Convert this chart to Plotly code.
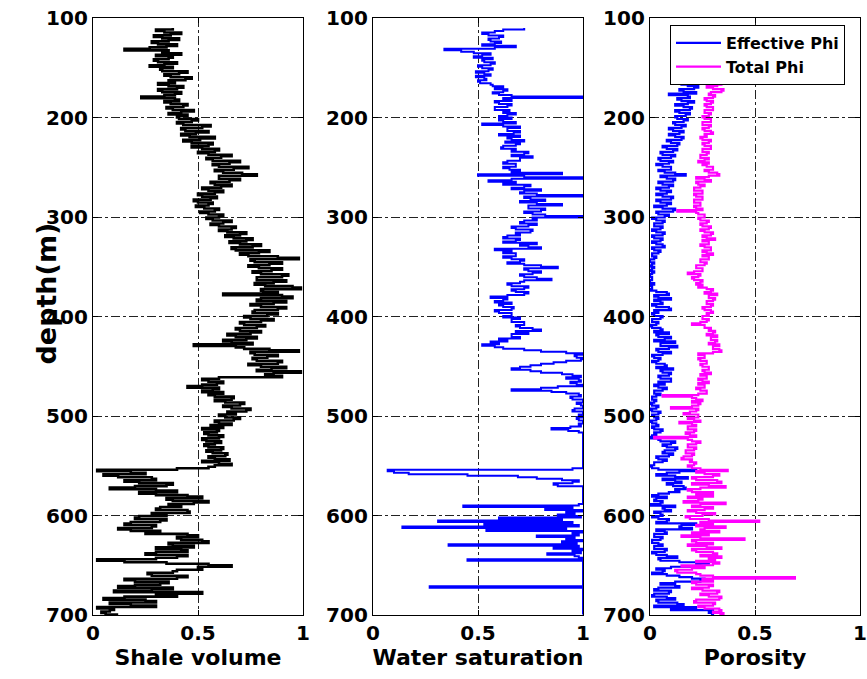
import plotly.graph_objects as go

# ---------------- data ----------------
# Logs are read at 3 m samples; each sample has a second reading 1.5 m deeper
depth = list(range(110, 701, 3))          # 110 ... 698 m
depth_phi = list(range(158, 701, 3))      # 158 ... 698 m
half_step = 1.5

shale_volume = [
    0.38, 0.34, 0.37, 0.33, 0.36, 0.31, 0.35, 0.15, 0.33, 0.30,
    0.36, 0.31, 0.34, 0.38, 0.33, 0.41, 0.37, 0.44, 0.39, 0.36,
    0.40, 0.33, 0.39, 0.23, 0.41, 0.37, 0.43, 0.38, 0.42, 0.45,
    0.41, 0.47, 0.43, 0.52, 0.44, 0.49, 0.46, 0.51, 0.47, 0.55,
    0.52, 0.58, 0.55, 0.61, 0.57, 0.65, 0.60, 0.67, 0.62, 0.78,
    0.60, 0.65, 0.58, 0.61, 0.55, 0.58, 0.52, 0.56, 0.50, 0.55,
    0.53, 0.58, 0.55, 0.60, 0.57, 0.62, 0.60, 0.66, 0.64, 0.70,
    0.67, 0.73, 0.70, 0.76, 0.68, 0.79, 0.74, 0.98, 0.77, 0.84,
    0.79, 0.85, 0.80, 0.90, 0.78, 0.86, 0.82, 0.99, 0.81, 0.62,
    0.95, 0.78, 0.86, 0.80, 0.88, 0.76, 0.83, 0.75, 0.80, 0.72,
    0.78, 0.70, 0.75, 0.68, 0.73, 0.66, 0.48, 0.72, 0.98, 0.77,
    0.83, 0.78, 0.88, 0.80, 0.85, 0.99, 0.82, 0.60, 0.55, 0.59,
    0.45, 0.57, 0.62, 0.58, 0.66, 0.63, 0.70, 0.66, 0.73, 0.68,
    0.63, 0.67, 0.60, 0.56, 0.52, 0.59, 0.55, 0.60, 0.54, 0.58,
    0.55, 0.61, 0.57, 0.63, 0.58, 0.52, 0.66, 0.55, 0.02, 0.25,
    0.12, 0.30, 0.22, 0.35, 0.08, 0.40, 0.30, 0.52, 0.38, 0.48,
    0.42, 0.30, 0.46, 0.35, 0.20, 0.32, 0.15, 0.28, 0.18, 0.25,
    0.50, 0.42, 0.55, 0.38, 0.30, 0.45, 0.25, 0.40, 0.02, 0.35,
    0.66, 0.52, 0.38, 0.28, 0.40, 0.20, 0.32, 0.12, 0.28, 0.52,
    0.40, 0.05, 0.30, 0.18, 0.02, 0.08, 0.06,
]
shale_volume_b = [
    0.30, 0.42, 0.29, 0.41, 0.28, 0.40, 0.27, 0.36, 0.42, 0.38,
    0.29, 0.40, 0.27, 0.32, 0.45, 0.34, 0.47, 0.36, 0.31, 0.43,
    0.31, 0.42, 0.34, 0.39, 0.34, 0.45, 0.35, 0.48, 0.36, 0.40,
    0.50, 0.40, 0.56, 0.42, 0.55, 0.42, 0.58, 0.43, 0.57, 0.47,
    0.60, 0.50, 0.66, 0.54, 0.70, 0.57, 0.74, 0.58, 0.71, 0.60,
    0.70, 0.56, 0.66, 0.52, 0.62, 0.50, 0.59, 0.48, 0.57, 0.49,
    0.60, 0.51, 0.62, 0.54, 0.66, 0.56, 0.68, 0.60, 0.73, 0.63,
    0.76, 0.65, 0.80, 0.66, 0.84, 0.70, 0.88, 0.75, 0.90, 0.74,
    0.90, 0.76, 0.93, 0.78, 0.92, 0.77, 0.95, 0.80, 0.88, 0.90,
    0.80, 0.92, 0.75, 0.92, 0.77, 0.88, 0.72, 0.86, 0.70, 0.82,
    0.68, 0.80, 0.64, 0.78, 0.62, 0.76, 0.68, 0.84, 0.75, 0.88,
    0.76, 0.90, 0.74, 0.92, 0.78, 0.86, 0.90, 0.52, 0.62, 0.52,
    0.60, 0.52, 0.55, 0.67, 0.58, 0.72, 0.62, 0.75, 0.64, 0.60,
    0.70, 0.58, 0.66, 0.62, 0.60, 0.53, 0.62, 0.52, 0.61, 0.53,
    0.62, 0.54, 0.64, 0.55, 0.65, 0.60, 0.58, 0.40, 0.18, 0.05,
    0.28, 0.15, 0.38, 0.20, 0.30, 0.22, 0.45, 0.35, 0.55, 0.36,
    0.32, 0.45, 0.28, 0.22, 0.35, 0.18, 0.30, 0.12, 0.32, 0.45,
    0.40, 0.52, 0.36, 0.48, 0.42, 0.30, 0.45, 0.30, 0.15, 0.55,
    0.50, 0.40, 0.26, 0.45, 0.15, 0.36, 0.20, 0.38, 0.10, 0.30,
    0.15, 0.25, 0.08, 0.30, 0.10, 0.04, 0.12,
]

water_saturation = [
    0.72, 0.58, 0.55, 0.60, 0.56, 0.58, 0.68, 0.34, 0.48, 0.52,
    0.57, 0.53, 0.56, 0.52, 0.55, 0.53, 0.49, 0.54, 0.51, 0.57,
    0.58, 0.62, 0.60, 1.00, 0.66, 0.60, 0.64, 0.58, 0.62, 0.64,
    0.66, 0.62, 0.52, 0.70, 0.64, 0.67, 0.70, 0.66, 0.63, 0.68,
    0.61, 0.66, 0.72, 0.76, 0.70, 0.62, 0.68, 0.65, 0.66, 0.50,
    1.00, 0.55, 0.62, 0.72, 0.80, 0.70, 1.00, 0.75, 0.70, 0.90,
    0.74, 0.80, 0.76, 1.00, 0.78, 0.70, 0.74, 0.68, 0.75, 0.70,
    0.62, 0.68, 0.78, 0.74, 0.58, 0.62, 0.68, 0.66, 0.70, 0.72,
    0.88, 0.74, 0.76, 0.72, 0.85, 0.70, 0.66, 0.72, 0.68, 0.72,
    0.56, 0.62, 0.66, 0.62, 0.66, 0.60, 0.66, 0.70, 0.66, 0.72,
    0.70, 0.80, 0.74, 0.66, 0.60, 0.56, 0.52, 0.62, 0.80, 1.00,
    0.97, 0.99, 0.86, 0.75, 0.66, 0.80, 0.95, 0.92, 0.99, 0.97,
    0.88, 0.66, 0.92, 0.99, 0.95, 1.00, 0.99, 1.00, 0.95, 1.00,
    1.00, 0.98, 1.00, 0.99, 0.85, 0.98, 1.00, 1.00, 1.00, 1.00,
    1.00, 1.00, 1.00, 1.00, 1.00, 1.00, 1.00, 1.00, 0.07, 0.17,
    0.69, 0.90, 0.95, 0.88, 1.00, 1.00, 1.00, 1.00, 1.00, 1.00,
    0.43, 0.82, 0.92, 0.88, 0.60, 0.31, 0.53, 0.14, 0.54, 0.95,
    0.78, 0.92, 0.90, 0.36, 0.86, 0.95, 0.83, 0.98, 0.45, 1.00,
    1.00, 1.00, 1.00, 1.00, 1.00, 1.00, 1.00, 0.27, 1.00, 1.00,
    1.00, 1.00, 1.00, 1.00, 1.00, 1.00, 1.00,
]
water_saturation_b = [
    0.62, 0.52, 0.62, 0.55, 0.61, 0.52, 0.58, 0.42, 0.56, 0.48,
    0.52, 0.58, 0.50, 0.57, 0.49, 0.56, 0.53, 0.50, 0.56, 0.62,
    0.64, 0.57, 0.66, 0.62, 0.58, 0.66, 0.58, 0.65, 0.68, 0.60,
    0.60, 0.68, 0.62, 0.64, 0.70, 0.60, 0.64, 0.72, 0.70, 0.62,
    0.68, 0.74, 0.66, 0.70, 0.64, 0.68, 0.62, 0.70, 0.90, 0.72,
    0.66, 0.68, 0.75, 0.66, 0.72, 0.78, 0.72, 0.82, 0.78, 0.74,
    0.82, 0.72, 0.82, 0.76, 0.72, 0.78, 0.66, 0.76, 0.68, 0.64,
    0.70, 0.62, 0.70, 0.80, 0.66, 0.68, 0.62, 0.72, 0.64, 0.80,
    0.72, 0.80, 0.70, 0.78, 0.72, 0.64, 0.74, 0.66, 0.74, 0.64,
    0.64, 0.58, 0.60, 0.67, 0.58, 0.66, 0.62, 0.66, 0.72, 0.68,
    0.76, 0.68, 0.66, 0.70, 0.64, 0.60, 0.58, 0.72, 0.92, 0.96,
    1.00, 0.92, 0.80, 0.70, 0.75, 0.90, 0.99, 0.98, 0.94, 1.00,
    0.80, 0.85, 0.98, 0.94, 1.00, 0.97, 1.00, 0.96, 1.00, 0.98,
    0.97, 1.00, 0.98, 0.94, 0.93, 1.00, 1.00, 1.00, 1.00, 1.00,
    1.00, 1.00, 1.00, 1.00, 1.00, 1.00, 1.00, 0.95, 0.10, 0.45,
    0.78, 0.98, 0.86, 1.00, 1.00, 1.00, 1.00, 1.00, 1.00, 0.98,
    0.95, 1.00, 0.96, 0.99, 0.90, 0.95, 0.98, 0.92, 1.00, 0.98,
    0.96, 1.00, 0.97, 0.98, 1.00, 0.99, 0.96, 1.00, 1.00, 1.00,
    1.00, 1.00, 1.00, 1.00, 1.00, 1.00, 1.00, 1.00, 1.00, 1.00,
    1.00, 1.00, 1.00, 1.00, 1.00, 1.00, 1.00,
]

effective_phi = [
    0.20, 0.17, 0.22, 0.18, 0.21, 0.16, 0.09, 0.19, 0.15, 0.18,
    0.16, 0.19, 0.14, 0.17, 0.13, 0.16, 0.12, 0.15, 0.11, 0.14,
    0.12, 0.15, 0.10, 0.13, 0.08, 0.11, 0.06, 0.10, 0.05, 0.09,
    0.06, 0.10, 0.07, 0.17, 0.08, 0.11, 0.06, 0.09, 0.05, 0.08,
    0.06, 0.10, 0.05, 0.08, 0.06, 0.11, 0.04, 0.07, 0.03, 0.06,
    0.02, 0.05, 0.03, 0.06, 0.02, 0.05, 0.03, 0.07, 0.02, 0.04,
    0.01, 0.02, 0.00, 0.01, 0.02, 0.00, 0.01, 0.00, 0.01, 0.00,
    0.00, 0.01, 0.03, 0.09, 0.04, 0.02, 0.06, 0.03, 0.10, 0.04,
    0.02, 0.05, 0.01, 0.03, 0.01, 0.06, 0.09, 0.04, 0.07, 0.12,
    0.05, 0.09, 0.04, 0.06, 0.02, 0.04, 0.03, 0.08, 0.11, 0.06,
    0.09, 0.05, 0.10, 0.07, 0.04, 0.06, 0.02, 0.03, 0.01, 0.02,
    0.01, 0.03, 0.01, 0.04, 0.02, 0.03, 0.01, 0.04, 0.02, 0.05,
    0.03, 0.00, 0.05, 0.10, 0.08, 0.12, 0.06, 0.09, 0.04, 0.06,
    0.02, 0.01, 0.22, 0.08, 0.12, 0.06, 0.15, 0.11, 0.17, 0.14,
    0.04, 0.08, 0.02, 0.05, 0.12, 0.07, 0.02, 0.06, 0.04, 0.08,
    0.22, 0.14, 0.03, 0.08, 0.02, 0.05, 0.01, 0.06, 0.02, 0.07,
    0.03, 0.13, 0.05, 0.28, 0.24, 0.03, 0.06, 0.08, 0.20, 0.24,
    0.05, 0.14, 0.02, 0.09, 0.01, 0.12, 0.04, 0.16, 0.22, 0.30,
    0.30,
]
effective_phi_b = [
    0.15, 0.23, 0.15, 0.23, 0.14, 0.22, 0.18, 0.13, 0.21, 0.12,
    0.20, 0.12, 0.19, 0.12, 0.18, 0.11, 0.17, 0.09, 0.16, 0.09,
    0.16, 0.08, 0.14, 0.06, 0.13, 0.05, 0.12, 0.04, 0.11, 0.03,
    0.10, 0.04, 0.12, 0.05, 0.12, 0.04, 0.11, 0.03, 0.10, 0.03,
    0.11, 0.03, 0.10, 0.02, 0.12, 0.03, 0.09, 0.01, 0.07, 0.02,
    0.06, 0.01, 0.07, 0.01, 0.06, 0.01, 0.06, 0.01, 0.05, 0.01,
    0.03, 0.00, 0.02, 0.00, 0.01, 0.02, 0.00, 0.01, 0.00, 0.02,
    0.01, 0.00, 0.08, 0.02, 0.10, 0.05, 0.01, 0.09, 0.02, 0.01,
    0.06, 0.01, 0.04, 0.00, 0.05, 0.02, 0.03, 0.10, 0.02, 0.05,
    0.13, 0.03, 0.10, 0.01, 0.05, 0.01, 0.07, 0.03, 0.05, 0.10,
    0.04, 0.10, 0.04, 0.02, 0.08, 0.02, 0.05, 0.01, 0.03, 0.00,
    0.04, 0.00, 0.05, 0.01, 0.04, 0.00, 0.03, 0.01, 0.06, 0.02,
    0.01, 0.04, 0.12, 0.06, 0.13, 0.07, 0.11, 0.03, 0.08, 0.02,
    0.00, 0.04, 0.14, 0.03, 0.18, 0.12, 0.08, 0.16, 0.12, 0.09,
    0.01, 0.03, 0.06, 0.00, 0.06, 0.10, 0.05, 0.01, 0.09, 0.03,
    0.15, 0.20, 0.07, 0.02, 0.06, 0.01, 0.04, 0.02, 0.08, 0.01,
    0.08, 0.04, 0.14, 0.22, 0.10, 0.07, 0.01, 0.14, 0.26, 0.12,
    0.12, 0.04, 0.10, 0.02, 0.08, 0.03, 0.13, 0.02, 0.10, 0.28,
    0.29,
]

total_phi = [
    0.30, 0.33, 0.29, 0.32, 0.30, 0.34, 0.28, 0.30, 0.27, 0.29,
    0.27, 0.30, 0.26, 0.28, 0.26, 0.29, 0.25, 0.28, 0.26, 0.30,
    0.27, 0.25, 0.28, 0.26, 0.29, 0.25, 0.27, 0.24, 0.26, 0.28,
    0.27, 0.30, 0.28, 0.33, 0.22, 0.29, 0.23, 0.24, 0.21, 0.25,
    0.22, 0.25, 0.21, 0.24, 0.22, 0.13, 0.23, 0.26, 0.24, 0.27,
    0.25, 0.28, 0.26, 0.29, 0.27, 0.25, 0.28, 0.26, 0.29, 0.27,
    0.25, 0.28, 0.24, 0.26, 0.22, 0.25, 0.18, 0.23, 0.21, 0.24,
    0.25, 0.27, 0.29, 0.32, 0.28, 0.30, 0.27, 0.29, 0.26, 0.30,
    0.28, 0.25, 0.27, 0.20, 0.26, 0.28, 0.30, 0.32, 0.29, 0.31,
    0.33, 0.30, 0.34, 0.23, 0.26, 0.24, 0.27, 0.25, 0.28, 0.26,
    0.24, 0.27, 0.25, 0.23, 0.26, 0.24, 0.27, 0.06, 0.22, 0.20,
    0.23, 0.10, 0.22, 0.16, 0.23, 0.21, 0.14, 0.22, 0.18, 0.21,
    0.19, 0.02, 0.20, 0.22, 0.18, 0.21, 0.17, 0.20, 0.15, 0.19,
    0.21, 0.20, 0.37, 0.26, 0.30, 0.22, 0.34, 0.28, 0.24, 0.20,
    0.22, 0.18, 0.23, 0.36, 0.20, 0.26, 0.22, 0.25, 0.19, 0.52,
    0.30, 0.36, 0.24, 0.20, 0.15, 0.45, 0.22, 0.18, 0.34, 0.22,
    0.32, 0.34, 0.31, 0.33, 0.15, 0.20, 0.13, 0.24, 0.69, 0.30,
    0.22, 0.28, 0.25, 0.32, 0.28, 0.33, 0.21, 0.30, 0.26, 0.34,
    0.35,
]
total_phi_b = [
    0.34, 0.28, 0.34, 0.27, 0.35, 0.29, 0.31, 0.26, 0.30, 0.26,
    0.30, 0.26, 0.29, 0.25, 0.29, 0.25, 0.29, 0.25, 0.29, 0.26,
    0.24, 0.29, 0.25, 0.29, 0.25, 0.28, 0.24, 0.28, 0.23, 0.25,
    0.30, 0.26, 0.32, 0.28, 0.26, 0.22, 0.26, 0.21, 0.25, 0.21,
    0.25, 0.21, 0.24, 0.21, 0.25, 0.22, 0.26, 0.23, 0.28, 0.24,
    0.29, 0.24, 0.30, 0.25, 0.31, 0.28, 0.24, 0.29, 0.25, 0.30,
    0.28, 0.24, 0.27, 0.22, 0.25, 0.21, 0.24, 0.20, 0.25, 0.22,
    0.23, 0.30, 0.26, 0.28, 0.31, 0.27, 0.30, 0.25, 0.29, 0.27,
    0.25, 0.28, 0.24, 0.26, 0.29, 0.31, 0.27, 0.29, 0.32, 0.28,
    0.30, 0.33, 0.30, 0.26, 0.23, 0.27, 0.24, 0.28, 0.25, 0.29,
    0.27, 0.23, 0.28, 0.26, 0.22, 0.27, 0.23, 0.20, 0.25, 0.24,
    0.20, 0.23, 0.19, 0.23, 0.18, 0.24, 0.20, 0.18, 0.22, 0.17,
    0.22, 0.18, 0.24, 0.18, 0.22, 0.17, 0.21, 0.16, 0.20, 0.22,
    0.18, 0.24, 0.22, 0.33, 0.20, 0.32, 0.20, 0.36, 0.18, 0.30,
    0.30, 0.25, 0.16, 0.24, 0.30, 0.18, 0.31, 0.17, 0.28, 0.24,
    0.22, 0.26, 0.33, 0.28, 0.24, 0.20, 0.30, 0.27, 0.20, 0.30,
    0.24, 0.28, 0.22, 0.30, 0.26, 0.12, 0.22, 0.30, 0.25, 0.20,
    0.30, 0.20, 0.33, 0.24, 0.34, 0.22, 0.31, 0.23, 0.33, 0.30,
    0.33,
]

x_ticks = [0, 0.5, 1]
x_ticktext = ["0", "0.5", "1"]
depth_ticks = [100, 200, 300, 400, 500, 600, 700]
panel_titles = ["Shale volume", "Water saturation", "Porosity"]
y_title = "depth(m)"


def interleave(d, a, b):
    """Merge the two readings of each sample into one depth-ordered log."""
    xs, ys = [], []
    for di, ai, bi in zip(d, a, b):
        xs += [ai, bi]
        ys += [di, di + half_step]
    return xs, ys


# ---------------- figure ----------------
W, H = 867, 679
FONT = "DejaVu Sans"
SHAPE = "vh"

fig = go.Figure()
x, y = interleave(depth, shale_volume, shale_volume_b)
fig.add_trace(go.Scatter(x=x, y=y, mode="lines",
                         line=dict(color="black", width=2.6, shape=SHAPE, simplify=False),
                         showlegend=False, xaxis="x", yaxis="y"))
x, y = interleave(depth, water_saturation, water_saturation_b)
fig.add_trace(go.Scatter(x=x, y=y, mode="lines",
                         line=dict(color="#0000ff", width=2.0, shape=SHAPE, simplify=False),
                         showlegend=False, xaxis="x2", yaxis="y2"))
x, y = interleave(depth_phi, effective_phi, effective_phi_b)
fig.add_trace(go.Scatter(x=x, y=y, mode="lines", name="Effective Phi",
                         line=dict(color="#0000ff", width=2.2, shape=SHAPE, simplify=False),
                         xaxis="x3", yaxis="y3"))
x, y = interleave(depth_phi, total_phi, total_phi_b)
fig.add_trace(go.Scatter(x=x, y=y, mode="lines", name="Total Phi",
                         line=dict(color="#ff00ff", width=2.2, shape=SHAPE, simplify=False),
                         xaxis="x3", yaxis="y3"))

panels_px = [(93, 303), (373, 583), (650, 860)]
ydom = [1 - 615 / H, 1 - 18 / H]

axis_common = dict(showline=True, linecolor="black", linewidth=1.3, mirror="ticks",
                   ticks="inside", ticklen=5, tickcolor="black", automargin=False,
                   showgrid=True, gridcolor="#222222", gridwidth=1, griddash="dashdot",
                   zeroline=False,
                   tickfont=dict(family=FONT, size=20, color="black", weight="bold"))

layout = dict(width=W, height=H, margin=dict(l=0, r=0, t=0, b=0, pad=0),
              paper_bgcolor="white", plot_bgcolor="white",
              showlegend=True,
              legend=dict(x=670 / W, y=1 - 25 / H, xanchor="left", yanchor="top",
                          bordercolor="black", borderwidth=1, bgcolor="white",
                          font=dict(family=FONT, size=16, color="black", weight="bold"),
                          itemwidth=45, tracegroupgap=0))

for i, (x0, x1) in enumerate(panels_px):
    sfx = "" if i == 0 else str(i + 1)
    layout["xaxis" + sfx] = dict(
        axis_common, domain=[x0 / W, x1 / W], range=[0, 1],
        tickvals=x_ticks, ticktext=x_ticktext, anchor="y" + sfx,
        title=dict(text=panel_titles[i], standoff=4,
                   font=dict(family=FONT, size=22, color="black", weight="bold")))
    layout["yaxis" + sfx] = dict(
        axis_common, domain=ydom, range=[700, 100], tickvals=depth_ticks,
        anchor="x" + sfx)

fig.update_layout(**layout)
fig.add_annotation(text=y_title, xref="paper", yref="paper",
                   x=28 / W, y=1 - 294 / H, showarrow=False, textangle=-90,
                   font=dict(family=FONT, size=27, color="black", weight="bold"))

fig.write_html("out.html")
